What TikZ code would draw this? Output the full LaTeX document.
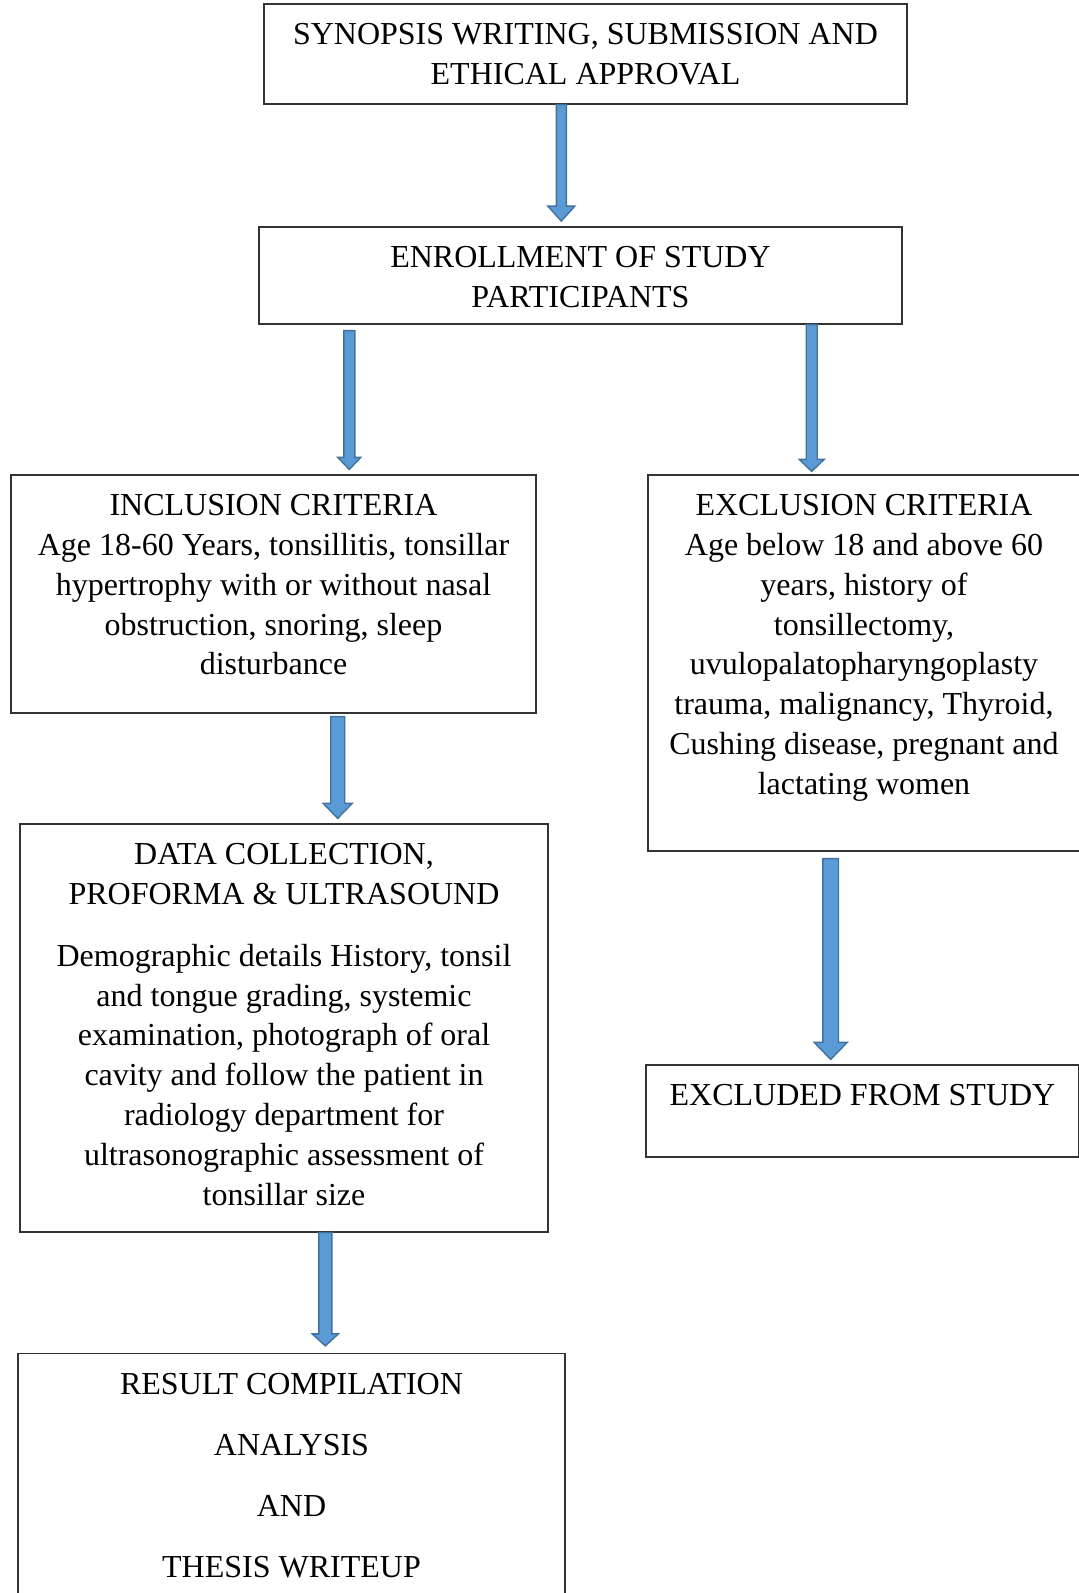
\documentclass[tikz,border=0pt]{standalone}
\usepackage{fontspec}
\setmainfont{Liberation Serif}
\usetikzlibrary{calc}
\definecolor{arrowblue}{HTML}{5B9BD5}
\definecolor{arrowedge}{HTML}{41719C}
\tikzset{
  flowbox/.style={draw=black!80, line width=0.6pt, inner sep=0pt, font=\fontsize{16pt}{19.9pt}\selectfont},
  flowarr/.style={fill=arrowblue, draw=arrowedge, line width=0.7pt, line join=miter}
}
\newcommand{\boxtxt}[3]{\parbox[c][#2][t]{#1}{\centering\vspace*{6.4pt}\strut #3}}
\newcommand{\flowarrow}[5]{%
  \draw [flowarr] ($(#1)+(-#3,0)$) -- ($(#2)+(-#3,-#5)$) -- ($(#2)+(-#4,-#5)$) -- (#2)
    -- ($(#2)+(#4,-#5)$) -- ($(#2)+(#3,-#5)$) -- ($(#1)+(#3,0)$) -- cycle;}
\begin{document}
\begin{tikzpicture}[x=0.5pt, y=-0.5pt]
    \useasboundingbox (0,0) rectangle (1079,1593);
    \node [flowbox] (synopsis) at (585.5,54) {\boxtxt{321.5pt}{50pt}{SYNOPSIS WRITING, SUBMISSION AND\\ ETHICAL APPROVAL}};
    \node [flowbox] (enrolment) at (580.5,275.5) {\boxtxt{321.5pt}{48.5pt}{ENROLLMENT OF STUDY\\ PARTICIPANTS}};
    \node [flowbox] (inclusion) at (273.5,594) {\boxtxt{262.5pt}{119pt}{INCLUSION CRITERIA\\ Age 18-60 Years, tonsillitis, tonsillar\\ hypertrophy with or without nasal\\ obstruction, snoring, sleep\\ disturbance}};
    \node [flowbox] (exclusion) at (864,663) {\boxtxt{216pt}{188pt}{EXCLUSION CRITERIA\\ Age below 18 and above 60\\ years, history of\\ tonsillectomy,\\ uvulopalatopharyngoplasty\\ trauma, malignancy, Thyroid,\\ Cushing disease, pregnant and\\ lactating women}};
    \node [flowbox] (datacoll) at (284,1028) {\boxtxt{264pt}{204pt}{DATA COLLECTION,\\ PROFORMA \& ULTRASOUND\\[11pt] Demographic details History, tonsil\\ and tongue grading, systemic\\ examination, photograph of oral\\ cavity and follow the patient in\\ radiology department for\\ ultrasonographic assessment of\\ tonsillar size}};
    \node [flowbox] (excluded) at (862.5,1111) {\boxtxt{216.5pt}{46pt}{EXCLUDED FROM STUDY}};
    \node [flowbox] (result) at (291.5,1487) {\boxtxt{273.5pt}{133.5pt}{RESULT COMPILATION\\[10.6pt] ANALYSIS\\[10.6pt] AND\\[10.6pt] THESIS WRITEUP}};
    \coordinate (a1s) at ($(synopsis.south)+(-24.2,0)$);
    \coordinate (a1e) at ($(a1s |- enrolment.north)+(0,-5.3)$);
    \coordinate (a2s) at ($(enrolment.south)+(-231.2,6)$);
    \coordinate (a2e) at ($(a2s |- inclusion.north)+(0,-5)$);
    \coordinate (a3s) at ($(enrolment.south)+(231.2,0)$);
    \coordinate (a3e) at ($(a3s |- exclusion.north)+(0,-3)$);
    \coordinate (a4s) at ($(inclusion.south)+(64.2,3)$);
    \coordinate (a4e) at ($(a4s |- datacoll.north)+(0,-5)$);
    \coordinate (a5s) at ($(exclusion.south)+(-33.3,7)$);
    \coordinate (a5e) at ($(a5s |- excluded.north)+(0,-5)$);
    \coordinate (a6s) at ($(datacoll.south)+(41.3,0)$);
    \coordinate (a6e) at ($(a6s |- result.north)+(0,-7)$);
    \flowarrow{a1s}{a1e}{5}{13.5}{15}
    \flowarrow{a2s}{a2e}{5.5}{11.5}{12}
    \flowarrow{a3s}{a3e}{5.5}{12.5}{12}
    \flowarrow{a4s}{a4e}{7}{14.5}{15}
    \flowarrow{a5s}{a5e}{7.8}{16.5}{17}
    \flowarrow{a6s}{a6e}{6.5}{13}{12}
\end{tikzpicture}
\end{document}
